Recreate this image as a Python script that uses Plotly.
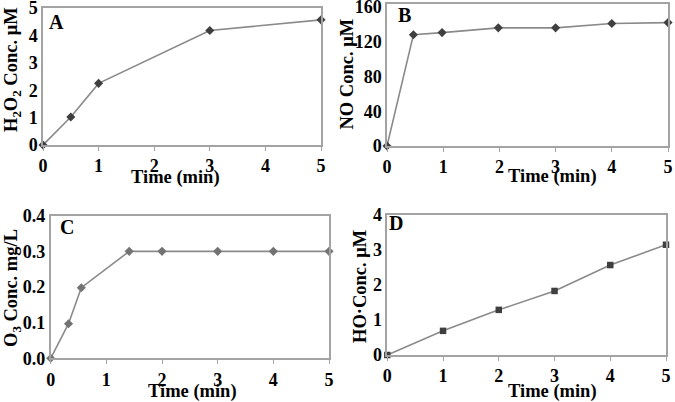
import plotly.graph_objects as go

W, H = 675, 402

# Data
a_time = [0, 0.5, 1, 3, 5]
a_h2o2 = [0, 1.02, 2.25, 4.18, 4.57]

b_time = [0, 0.47, 0.98, 1.98, 3.0, 4.0, 5.0]
b_no = [0, 128, 130.5, 136, 136, 141, 142]

c_time = [0, 0.32, 0.55, 1.41, 2.0, 3.0, 4.0, 5.0]
c_o3 = [0, 0.097, 0.198, 0.3, 0.3, 0.3, 0.3, 0.3]

d_time = [0, 1, 2, 3, 4, 5]
d_ho = [0, 0.69, 1.29, 1.83, 2.57, 3.15]

x_ticks = [0, 1, 2, 3, 4, 5]
a_yticks = [0, 1, 2, 3, 4, 5]
b_yticks = [0, 40, 80, 120, 160]
c_yticks = [0.0, 0.1, 0.2, 0.3, 0.4]
d_yticks = [0, 1, 2, 3, 4]

FONT = "Liberation Serif"
AX = "#a3a3a3"
LINE = "#8a8a8a"

def px_x(v):
    return v / W

def px_y(v):
    return 1 - v / H

fig = go.Figure()

panels = [
    ("", a_time, a_h2o2, (43, 321), (7.5, 145), [0, 5.02], a_yticks, "diamond", "#3f3f3f", None),
    ("2", b_time, b_no, (387, 668), (3.5, 146), [0, 164], b_yticks, "diamond", "#3f3f3f", None),
    ("3", c_time, c_o3, (50.7, 329), (215.7, 358.3), [0, 0.4], c_yticks, "diamond", "#737373", ".1f"),
    ("4", d_time, d_ho, (387.3, 666), (215, 355), [0, 4], d_yticks, "square", "#3f3f3f", None),
]

TF = dict(family=FONT, size=18, color="black", weight="bold")

for name, xs, ys, (x0, x1), (yt, yb), yr, yt_vals, sym, mc, fmt in panels:
    fig.add_trace(go.Scatter(
        x=xs, y=ys, mode="lines+markers",
        line=dict(color=LINE, width=1.6),
        marker=dict(symbol=sym, size=7 if sym == "diamond" else 6.5, color=mc),
        xaxis="x" + name, yaxis="y" + name, showlegend=False, cliponaxis=False,
    ))
    xa = dict(
        domain=[px_x(x0), px_x(x1)], range=[0, 5], anchor="y" + name,
        tickvals=x_ticks,
        ticks="outside", ticklen=4, tickcolor=AX, ticklabeloverflow="allow",
        showline=True, linecolor=AX, linewidth=1.5, mirror=True,
        showgrid=False, zeroline=False, automargin=False,
        tickfont=TF,
    )
    ya = dict(
        domain=[px_y(yb), px_y(yt)], range=yr, anchor="x" + name,
        tickvals=yt_vals, ticks="", ticklabeloverflow="allow",
        showline=True, linecolor=AX, linewidth=1.5, mirror=True,
        showgrid=False, zeroline=False, automargin=False,
        tickfont=TF,
    )
    if fmt:
        ya["tickformat"] = fmt
    fig.update_layout(**{"xaxis" + name: xa, "yaxis" + name: ya})

ann = []
def text(s, x, y, size=18.5, angle=0):
    ann.append(dict(text=s, x=px_x(x), y=px_y(y), xref="paper", yref="paper",
                    showarrow=False, textangle=angle, xanchor="center", yanchor="middle",
                    font=dict(family=FONT, size=size, color="black", weight="bold")))

text("A", 56, 22, 20)
text("B", 404, 15, 20)
text("C", 67, 227, 20)
text("D", 396, 223, 20)

text("Time (min)", 176, 177)
text("Time (min)", 552, 176)
text("Time (min)", 192, 391)
text("Time (min)", 552, 391)

text("H<sub>2</sub>O<sub>2</sub> Conc. μM", 12, 70, 18.5, -90)
text("NO Conc. μM", 347, 74.5, 18.5, -90)
text("O<sub>3</sub> Conc. mg/L", 12, 288, 18.5, -90)
text("HO·Conc. μM", 360, 287, 18.5, -90)

fig.update_layout(
    width=W, height=H, margin=dict(l=0, r=0, t=0, b=0),
    paper_bgcolor="white", plot_bgcolor="white",
    font=dict(family=FONT, size=18, color="black", weight="bold"),
    annotations=ann,
)

fig.write_html("out.html", config={"displayModeBar": False},
               post_script="document.body.style.margin='0';")
